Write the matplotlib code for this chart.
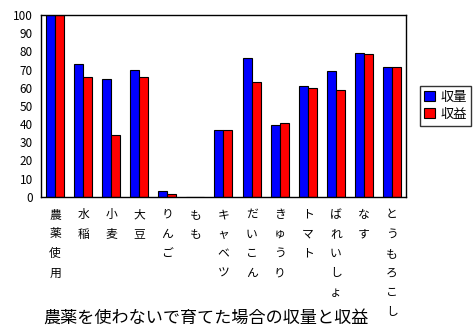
import numpy as np
import matplotlib
matplotlib.use("Agg")
import matplotlib.pyplot as plt

plt.rcParams['font.family'] = ['Noto Sans CJK JP', 'DejaVu Sans']

crops = ['農薬使用', '水稲', '小麦', '大豆', 'りんご', 'もも', 'キャベツ',
         'だいこん', 'きゅうり', 'トマト', 'ばれいしょ', 'なす', 'とうもろこし']
yield_pct = [100, 73, 65, 70, 3.3, 0, 37, 76.5, 39.4, 61.2, 69, 79.3, 71.6]
profit_pct = [100, 66, 34, 66, 1.6, 0, 37, 63, 40.5, 60.1, 58.5, 78.7, 71.6]

fig = plt.figure(figsize=(4.77, 3.32), dpi=100)
ax = fig.add_axes([0.086, 0.407, 0.765, 0.548])

x = np.arange(len(crops))
w = 0.32
ax.bar(x - w / 2, yield_pct, w, color='#0000ff', edgecolor='black', linewidth=0.8, label='収量')
ax.bar(x + w / 2, profit_pct, w, color='#ff0000', edgecolor='black', linewidth=0.8, label='収益')

ax.set_xlim(-0.5, len(crops) - 0.5)
ax.set_ylim(0, 100)
ax.set_yticks(range(0, 101, 10))
ax.tick_params(axis='y', length=0, labelsize=8.5, pad=6)
ax.tick_params(axis='x', length=0, labelsize=8.5, pad=8)
ax.set_xticks(x)
ax.set_xticklabels(['\n'.join(c) for c in crops], va='top', rotation=0, linespacing=1.65)
for s in ax.spines.values():
    s.set_linewidth(1)

# legend box to the right of the plot, square frame
ax.legend(loc='center left', bbox_to_anchor=(1.02, 0.5), fontsize=9.5, frameon=True,
          fancybox=False, edgecolor='black', handlelength=0.8, handleheight=0.8,
          handletextpad=0.4, borderpad=0.35, labelspacing=0.3)

fig.text(0.09, 0.042, '農薬を使わないで育てた場合の収量と収益', fontsize=12.3, ha='left', va='center')

fig.savefig('out.png', dpi=100)
